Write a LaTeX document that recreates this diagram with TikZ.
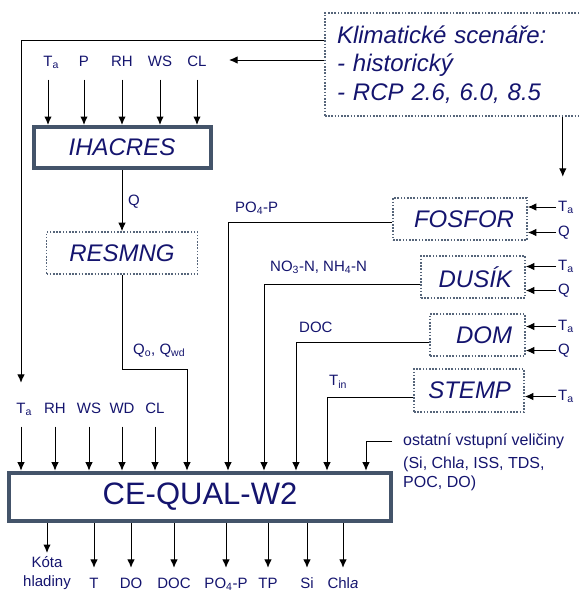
\documentclass[tikz,border=0pt]{standalone}
\usepackage{fontspec}
\setmainfont{Liberation Sans}
\usepackage{tikz}
\usetikzlibrary{arrows.meta,positioning}
\definecolor{wqnavy}{HTML}{14146E}
\definecolor{wqslate}{HTML}{44546A}
\definecolor{wqdot}{HTML}{56657A}
\newcommand{\Tair}{T\rlap{\textsubscript{a}}}
\tikzset{
  txt/.style={font=\fontsize{15}{19}\selectfont,text=wqnavy,inner sep=2pt},
  lab/.style={txt,text height=11pt,text depth=3pt},
  model/.style={draw=wqslate,line width=4pt,fill=white,text=wqnavy,inner sep=0pt},
  sub/.style={draw=wqdot,line width=1.6pt,dash pattern=on 1.6pt off 1.6pt,text=wqnavy,inner sep=0pt,font=\fontsize{24}{28.5}\selectfont\itshape},
  chem/.style={sub,align=right,inner xsep=13pt,minimum height=42pt},
  ar/.style={-{Latex[length=8.5pt,width=7.5pt]},draw=black,line width=1pt},
  inp/.style={ar,shorten <=8pt},
  outp/.style={ar,shorten >=7pt},
}
\begin{document}
\begin{tikzpicture}[x=1pt,y=-1pt]
  \useasboundingbox (0,0) rectangle (579,592);
  \node[sub,align=left,text width=234pt,inner xsep=12pt,minimum height=103pt] (klima) at (454,64.5) {Klimatické scenáře:\\- historický\\- RCP 2.6, 6.0, 8.5};
  \node[model,minimum width=177pt,minimum height=41pt,font=\fontsize{24}{28}\selectfont\itshape] (ihacres) at (122,147.5) {IHACRES};
  \node[sub,minimum width=151pt,minimum height=42pt] (resmng) at (122,253) {RESMNG};
  \node[model,minimum width=382pt,minimum height=48.6pt,font=\fontsize{31}{36}\selectfont] (ceq) at (200,497) {CE-QUAL-W2};
  \node[chem,text width=108pt] (fosfor) at (460,219) {FOSFOR};
  \node[chem,text width=78pt] (dusik) at (473,277) {DUSÍK};
  \node[chem,text width=69pt] (dom) at (477.5,335) {DOM};
  \node[chem,text width=84pt,minimum height=43pt] (stemp) at (469,390.5) {STEMP};

  \node[lab] (tTa) at (48,62.5) {\Tair}; \node[lab] (tP) at (84,62.5) {P};
  \node[lab] (tRH) at (122,62.5) {RH}; \node[lab] (tWS) at (160,62.5) {WS};
  \node[lab] (tCL) at (197,62.5) {CL};
  \draw[inp] (tTa.south) -- (tTa.south |- ihacres.north);
  \draw[inp] (tP.south) -- (tP.south |- ihacres.north);
  \draw[inp] (tRH.south) -- (tRH.south |- ihacres.north);
  \draw[inp] (tWS.south) -- (tWS.south |- ihacres.north);
  \draw[inp] (tCL.south) -- (tCL.south |- ihacres.north);

  \node[lab] (bTa) at (21,409.5) {\Tair}; \node[lab] (bRH) at (55,409.5) {RH};
  \node[lab] (bWS) at (89,409.5) {WS}; \node[lab] (bWD) at (122,409.5) {WD};
  \node[lab] (bCL) at (155,409.5) {CL};
  \draw[inp] (bTa.south) -- (bTa.south |- ceq.north);
  \draw[inp] (bRH.south) -- (bRH.south |- ceq.north);
  \draw[inp] (bWS.south) -- (bWS.south |- ceq.north);
  \draw[inp] (bWD.south) -- (bWD.south |- ceq.north);
  \draw[inp] (bCL.south) -- (bCL.south |- ceq.north);

  \coordinate (clIn) at (229,60);
  \draw[ar] ([yshift=4.5pt]klima.west) -- (clIn);
  \draw[ar,shorten >=17.5pt] ([yshift=24.5pt]klima.west) -| (bTa.north);

  \draw[ar] (ihacres.south) -- (resmng.north);
  \node[lab,anchor=west] (lQ) at (126,201.5) {Q};
  \draw[ar] (resmng.south) -- ++(0,94.5) -| ([xshift=-13pt]ceq.north);
  \node[lab,anchor=west] (lQo) at (131,350) {Q\textsubscript{o}, Q\textsubscript{wd}};

  \node[lab,anchor=west] (fosTa) at (556,207) {\Tair}; \node[lab,anchor=west] (fosQ) at (556,232.5) {Q};
  \node[lab,anchor=west] (dusTa) at (556,266.5) {\Tair}; \node[lab,anchor=west] (dusQ) at (556,290.5) {Q};
  \node[lab,anchor=west] (domTa) at (556,326.5) {\Tair}; \node[lab,anchor=west] (domQ) at (556,350.5) {Q};
  \node[lab,anchor=west] (stTa) at (556,396.5) {\Tair};
  \draw[ar,shorten >=21pt] (klima.south -| fosTa.north) -- (fosTa.north);
  \draw[ar] (fosTa.west) -- (fosTa.west -| fosfor.east);
  \draw[ar] (fosQ.west) -- (fosQ.west -| fosfor.east);
  \draw[ar] (dusTa.west) -- (dusTa.west -| dusik.east);
  \draw[ar] (dusQ.west) -- (dusQ.west -| dusik.east);
  \draw[ar] (domTa.west) -- (domTa.west -| dom.east);
  \draw[ar] (domQ.west) -- (domQ.west -| dom.east);
  \draw[ar] (stTa.west) -- (stTa.west -| stemp.east);

  \node[lab,anchor=west] (lPO) at (233,208.5) {PO\textsubscript{4}-P};
  \node[lab,anchor=west] (lNO) at (268,267.5) {NO\textsubscript{3}-N, NH\textsubscript{4}-N};
  \node[lab,anchor=west] (lDOC) at (297,328.5) {DOC};
  \node[lab,anchor=west] (lTin) at (327,381.5) {T\textsubscript{in}};
  \draw[ar] ([yshift=-3pt]fosfor.west) -| ([xshift=28pt]ceq.north);
  \draw[ar] ([yshift=-7pt]dusik.west) -| ([xshift=64pt]ceq.north);
  \draw[ar] ([yshift=-7pt]dom.west) -| ([xshift=96pt]ceq.north);
  \draw[ar] ([yshift=-6.5pt]stemp.west) -| ([xshift=127pt]ceq.north);

  \node[lab,font=\fontsize{16}{19}\selectfont,anchor=west] (ostat) at (401,441.5) {ostatní vstupní veličiny};
  \node[txt,font=\fontsize{16}{19}\selectfont,anchor=north west,align=left] (ostatList) at (401,454.5) {(Si, Chl\textit{a}, ISS, TDS,\\POC, DO)};
  \draw[ar] ([xshift=-9pt]ostat.west) -| ([xshift=166pt]ceq.north);

  \node[txt,align=center,anchor=north] (oKota) at (47,554) {Kóta\\hladiny};
  \node[lab] (oT) at (94,584) {T}; \node[lab] (oDO) at (131,584) {DO};
  \node[lab] (oDOC) at (174,584) {DOC}; \node[lab] (oPO) at (226,584) {PO\textsubscript{4}-P};
  \node[lab] (oTP) at (268,584) {TP}; \node[lab] (oSi) at (307,584) {Si};
  \node[lab] (oChl) at (343,584) {Chl\textit{a}};
  \draw[ar,shorten >=1pt] (oKota.north |- ceq.south) -- (oKota.north);
  \draw[outp] (oT.north |- ceq.south) -- (oT.north);
  \draw[outp] (oDO.north |- ceq.south) -- (oDO.north);
  \draw[outp] (oDOC.north |- ceq.south) -- (oDOC.north);
  \draw[outp] (oPO.north |- ceq.south) -- (oPO.north);
  \draw[outp] (oTP.north |- ceq.south) -- (oTP.north);
  \draw[outp] (oSi.north |- ceq.south) -- (oSi.north);
  \draw[outp] (oChl.north |- ceq.south) -- (oChl.north);
\end{tikzpicture}
\end{document}
